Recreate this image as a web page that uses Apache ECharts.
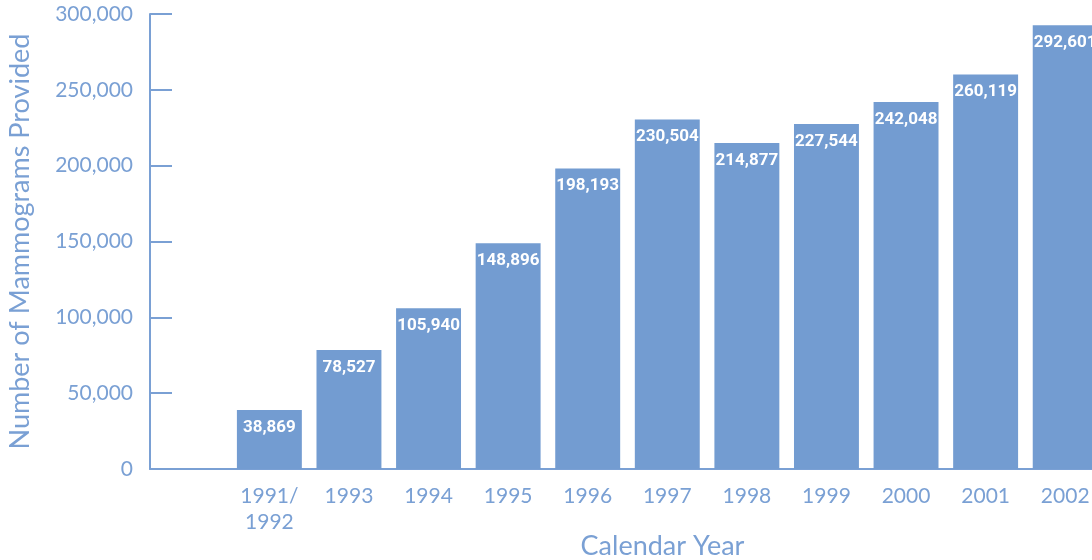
<!DOCTYPE html>
<html><head><meta charset="utf-8">
<script src="https://cdn.jsdelivr.net/npm/echarts@6/dist/echarts.min.js"></script>
<style>html,body{margin:0;padding:0;background:#fff;overflow:hidden}#c{width:1092px;height:560px}</style>
</head><body><div id="c"></div>
<script>
var categories = ['', '1991/\n1992', '1993', '1994', '1995', '1996', '1997', '1998', '1999', '2000', '2001', '2002'];
var mammograms = [null, 38869, 78527, 105940, 148896, 198193, 230504, 214877, 227544, 242048, 260119, 292601];
var yTicks = [0, 50000, 100000, 150000, 200000, 250000, 300000];

var C = '#7aa0d4';
var BAR = '#739cd1';
var chart = echarts.init(document.getElementById('c'));
chart.setOption({
  animation: false,
  grid: {left: 150, right: -13, top: 14, bottom: 91, containLabel: false, outerBoundsMode: 'none'},
  xAxis: {
    type: 'category', data: categories,
    name: 'Calendar Year', nameLocation: 'middle', nameGap: 64, nameMoveOverlap: false,
    nameTextStyle: {color: C, fontFamily: 'Lato', fontSize: 27, padding: [0, 0, 0, 70]},
    axisLine: {lineStyle: {color: C, width: 2}},
    axisTick: {show: false},
    axisLabel: {color: C, fontFamily: 'Lato', fontSize: 21, lineHeight: 26, margin: 14}
  },
  yAxis: {
    type: 'value', min: yTicks[0], max: yTicks[yTicks.length - 1], interval: 50000,
    name: 'Number of Mammograms Provided', nameLocation: 'middle', nameGap: 116, nameMoveOverlap: false,
    nameTextStyle: {color: C, fontFamily: 'Lato', fontSize: 27},
    axisLine: {show: true, lineStyle: {color: C, width: 2}},
    axisTick: {show: true, inside: true, length: 22, lineStyle: {color: C, width: 2}},
    splitLine: {show: false},
    axisLabel: {color: C, fontFamily: 'Lato', fontSize: 21, margin: 17,
      formatter: function (v) { return v.toLocaleString('en-US'); }}
  },
  series: [{
    type: 'bar', data: mammograms, barCategoryGap: '18.4%',
    itemStyle: {color: BAR},
    label: {show: true, position: 'insideTop', distance: 9, color: '#fff',
      fontFamily: 'Roboto, sans-serif', fontWeight: 'bold', fontSize: 17,
      formatter: function (p) { return p.value == null ? '' : p.value.toLocaleString('en-US'); }}
  }]
});
</script></body></html>
